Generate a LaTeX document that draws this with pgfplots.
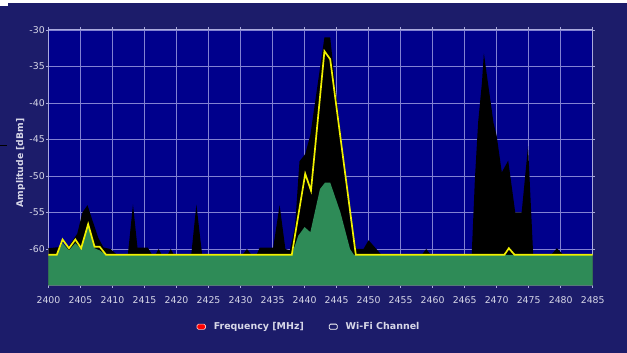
\documentclass[border=0pt]{standalone}
\usepackage{pgfplots}
\pgfplotsset{compat=1.18}
\usepackage{fontspec}
\setmainfont{DejaVu Sans}
\definecolor{navybg}{RGB}{28,28,106}
\definecolor{plotbg}{RGB}{0,0,140}
\definecolor{gridc}{RGB}{130,130,210}
\definecolor{axisc}{RGB}{170,170,220}
\definecolor{greenf}{RGB}{46,139,87}
\definecolor{yel}{RGB}{240,240,0}
\definecolor{txt}{RGB}{215,215,232}
\begin{document}
\begin{tikzpicture}
\fill[navybg] (0,0) rectangle (627bp,353bp);
\fill[white] (0,350bp) rectangle (627bp,353bp);
\fill[white] (0,347bp) rectangle (8bp,353bp);
\draw[black, line width=1bp] (0,207bp) -- (7bp,207bp);
\node[rotate=90, text=txt, font=\bfseries\fontsize{9.3}{10}\selectfont] at (20bp,190bp) {Amplitude [dBm]};
\begin{axis}[
  at={(48bp,67.3bp)}, anchor=south west,
  scale only axis, width=544.7bp, height=255.7bp,
  xmin=2400, xmax=2485, ymin=-65, ymax=-30,
  xtick={2400,2405,...,2485}, ytick={-60,-55,...,-30},
  /pgf/number format/.cd, set thousands separator={}, assume math mode=true, /pgfplots/.cd,
  tick label style={text=txt, font=\fontsize{9.4}{10}\selectfont},
  xticklabel style={inner sep=0pt, yshift=-8bp},
  yticklabel style={inner sep=0pt, xshift=-1bp},
  tick align=outside, major tick length=2.5bp,
  tick style={axisc, line width=0.6bp},
  axis line style={axisc, line width=1bp},
  grid=major, grid style={gridc, line width=0.8bp},
  axis background/.style={fill=plotbg},
  legend columns=2,
  legend style={at={(0.272,-0.1615)}, anchor=west, draw=none, fill=none,
    text=txt, font=\bfseries\fontsize{9.5}{10}\selectfont, inner sep=0pt,
    /tikz/every odd column/.append style={column sep=6bp},
    /tikz/every even column/.append style={column sep=23bp}},
]
% black envelope (max hold)
\addplot[fill=black, draw=none, forget plot] coordinates {
(2400,-65) (2400,-59.9) (2403.2,-59.6) (2404.5,-57.9) (2405.3,-55) (2406.1,-54)
(2406.8,-55.9) (2407.8,-58.5) (2408.6,-59.8) (2409.7,-60) (2410.7,-60.8)
(2412.4,-60.8) (2413.2,-53.9) (2413.9,-59.8) (2415.5,-59.8) (2416.2,-60.8)
(2416.7,-60.8) (2417.2,-60) (2417.7,-60.8) (2418.6,-60.8) (2419.1,-60) (2419.6,-60.8)
(2422.3,-60.8) (2423.1,-53.9) (2424,-60.8) (2430.3,-60.8) (2431,-60) (2431.7,-60.8)
(2432.5,-60.8) (2433,-59.8) (2435.1,-59.8) (2436.1,-54) (2437,-60) (2437.7,-60.2)
(2438.5,-57) (2439.2,-48) (2440.1,-47) (2440.9,-44.4) (2443.1,-31) (2444,-31)
(2444.8,-37.7) (2445.8,-45.5) (2447.1,-55.9) (2448.1,-60) (2449.2,-60) (2450,-58.8)
(2451,-59.8) (2452,-60.8) (2458.3,-60.8) (2459,-60) (2459.7,-60.8)
(2466.1,-60.8) (2466.6,-50.4) (2467.1,-42.7) (2467.7,-37.2) (2468,-33.2)
(2469.5,-42.7) (2470,-44.5) (2470.8,-49.5) (2471.8,-47.9) (2472.9,-55) (2473.9,-55)
(2474.9,-45.9) (2475.7,-60.8) (2478.5,-60.8) (2479.4,-59.9) (2480.4,-60.8)
(2485,-60.8) (2485,-65)
};
% green (current)
\addplot[fill=greenf, draw=none, forget plot] coordinates {
(2400,-65) (2400,-60.8) (2401.3,-60.8) (2402.2,-59.2) (2403.2,-60.2) (2404.2,-59.2)
(2405.1,-60) (2406.2,-56.8) (2407.2,-59.9) (2408,-60.2) (2409,-60.8)
(2438,-60.8) (2439,-58.2) (2440,-57) (2440.9,-57.7) (2442.4,-51.8) (2443.2,-50.9)
(2444,-50.9) (2445.6,-55) (2447.1,-60) (2447.7,-60.8) (2485,-60.8) (2485,-65)
};
% yellow (average)
\addplot[yel, line width=1.7bp, forget plot] coordinates {
(2400,-60.8) (2401.3,-60.8) (2402.2,-58.7) (2403.2,-59.9) (2404.2,-58.7) (2405.1,-59.9)
(2406.2,-56.6) (2407.2,-59.7) (2408,-59.7) (2409,-60.8) (2438,-60.8) (2440.1,-49.7)
(2441,-52) (2443.1,-32.9) (2444,-34) (2448,-60.8) (2471.2,-60.8) (2471.9,-59.9)
(2472.8,-60.8) (2485,-60.8)
};
\addlegendimage{legend image code/.code={\draw[fill=red, draw=pink, line width=0.6bp, rounded corners=1.5bp] (0bp,-2.6bp) rectangle (8.5bp,2.6bp);}}
\addlegendentry{Frequency [MHz]}
\addlegendimage{legend image code/.code={\draw[fill=navybg, draw=white, line width=0.8bp, rounded corners=1.2bp] (0bp,-2.6bp) rectangle (8bp,2.6bp);}}
\addlegendentry{Wi-Fi Channel}
\end{axis}
\end{tikzpicture}
\end{document}
